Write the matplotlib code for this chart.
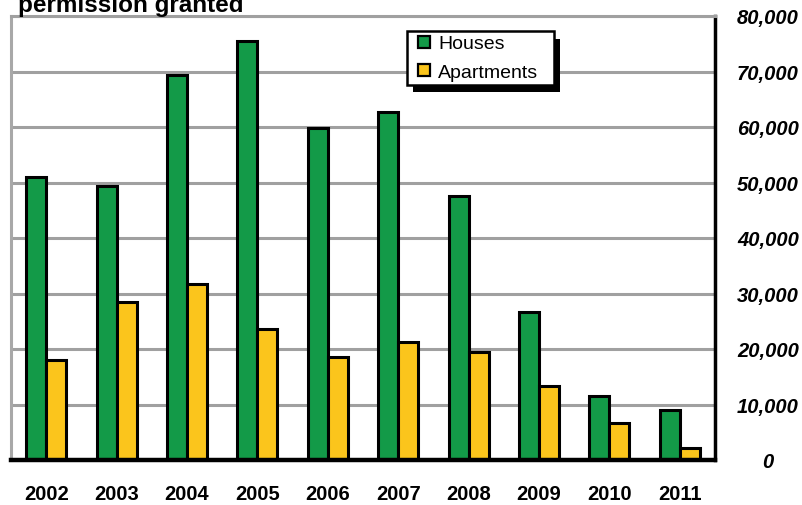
import matplotlib
matplotlib.use("Agg")
import matplotlib.pyplot as plt
import matplotlib.patheffects as pe
from matplotlib.lines import Line2D
import numpy as np

plt.rcParams['font.family'] = ['Liberation Sans', 'DejaVu Sans']

years = ['2002', '2003', '2004', '2005', '2006', '2007', '2008', '2009', '2010', '2011']
houses = [51000, 49400, 69400, 75500, 59800, 62700, 47600, 26700, 11500, 9000]
apartments = [18000, 28500, 31700, 23600, 18600, 21300, 19500, 13300, 6700, 2200]
yticks = [0, 10000, 20000, 30000, 40000, 50000, 60000, 70000, 80000]
ytick_labels = ['0', '10,000', '20,000', '30,000', '40,000', '50,000', '60,000', '70,000', '80,000']

green = '#139a48'
yellow = '#fbc51c'

fig = plt.figure(figsize=(8.03, 5.06), dpi=100)
ax = fig.add_axes([11/803, 1-461/506, (715-11)/803, (461-17)/506])

x = np.arange(len(years))
w = 0.284
ax.bar(x - w/2, houses, width=w, color=green, edgecolor='black', linewidth=2.2, label='Houses', zorder=3)
ax.bar(x + w/2, apartments, width=w, color=yellow, edgecolor='black', linewidth=2.2, label='Apartments', zorder=3)

ax.set_xlim(-0.5, len(years) - 0.5)
ax.set_ylim(0, 80000)
ax.set_yticks(yticks)
ax.set_yticklabels(ytick_labels)
ax.yaxis.tick_right()
ax.tick_params(axis='y', length=0, pad=38)
for lab in ax.get_yticklabels():
    lab.set_fontweight('bold')
    lab.set_fontstyle('italic')
    lab.set_fontsize(14.5)
    lab.set_horizontalalignment('center')

ax.set_xticks(x)
ax.set_xticklabels(years, fontsize=14.5, fontweight='bold')
ax.tick_params(axis='x', length=0, pad=17)

ax.grid(axis='y', color='#a0a0a0', linewidth=2.2, zorder=0)
ax.set_axisbelow(True)

ax.spines['left'].set_color('#a8a8a8')
ax.spines['left'].set_linewidth(2.2)
ax.spines['top'].set_color('#a0a0a0')
ax.spines['top'].set_linewidth(2.2)
ax.spines['right'].set_color('black')
ax.spines['right'].set_linewidth(2.5)
ax.spines['bottom'].set_color('black')
ax.spines['bottom'].set_linewidth(3.2)
ax.spines['bottom'].set_zorder(5)

handles = [Line2D([], [], linestyle='none', marker='s', markersize=8.5, markerfacecolor=green,
                  markeredgecolor='black', markeredgewidth=1.6),
           Line2D([], [], linestyle='none', marker='s', markersize=8.5, markerfacecolor=yellow,
                  markeredgecolor='black', markeredgewidth=1.6)]
x0 = (407-11)/704
wid = (554-407)/704
y1 = 1-(32-17)/444
leg = ax.legend(handles, ['Houses', 'Apartments'], loc='upper left',
                bbox_to_anchor=(x0, y1 - 0.2, wid, 0.2), mode='expand',
                fontsize=14, frameon=True, fancybox=False, shadow=False,
                handlelength=1.3, handletextpad=0.1,
                borderpad=0.2, labelspacing=0.55, borderaxespad=0)
frame = leg.get_frame()
frame.set_edgecolor('black')
frame.set_linewidth(1.8)
frame.set_alpha(1)
frame.set_path_effects([pe.SimplePatchShadow(offset=(4.5, -5.5), shadow_rgbFace='black', alpha=1), pe.Normal()])

fig.text(18/803, 1 - 12/506, 'permission granted', fontsize=17.5, fontweight='bold',
         ha='left', va='baseline')

fig.savefig('out.png', dpi=100)
